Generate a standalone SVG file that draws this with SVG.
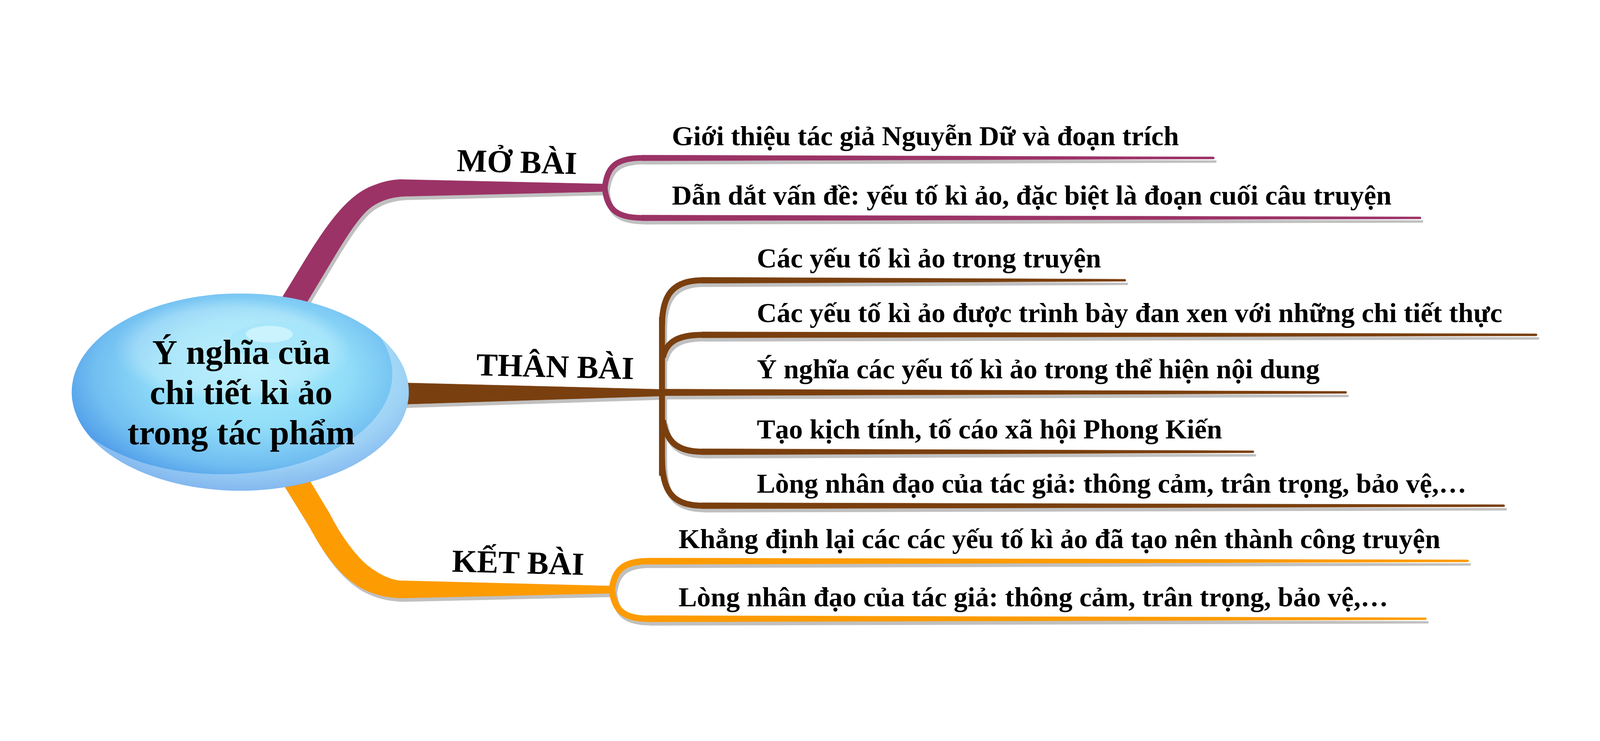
<svg xmlns="http://www.w3.org/2000/svg" xmlns:xlink="http://www.w3.org/1999/xlink" width="5334" height="1898" viewBox="0 0 5334 1898">
<style>
svg:root{width:100vw;height:100vh}
text{font-family:"Liberation Serif","Times New Roman",serif;font-weight:bold;fill:#000}
.center{font-size:116px}
.label{font-size:107px}
.item{font-size:92px}
.sh{fill:#c0c0c0;stroke:#c0c0c0}
</style>
<defs>
<radialGradient id="ball" cx="0.52" cy="0.42" r="0.62" fx="0.55" fy="0.38">
<stop offset="0" stop-color="#a6ebfc"/>
<stop offset="0.45" stop-color="#92def9"/>
<stop offset="0.75" stop-color="#70bdf1"/>
<stop offset="1" stop-color="#3f8be5"/>
</radialGradient>
<radialGradient id="gloss" cx="0.5" cy="0.5" r="0.5">
<stop offset="0" stop-color="#ffffff" stop-opacity="0.28"/>
<stop offset="0.8" stop-color="#ffffff" stop-opacity="0.22"/>
<stop offset="1" stop-color="#ffffff" stop-opacity="0"/>
</radialGradient>
<clipPath id="ballclip"><ellipse cx="801" cy="1021" rx="562" ry="329"/></clipPath>
<g id="b-mo">
<path d="M 880 805 L 1005 600 C 1090 460 1160 360 1250 330 C 1280 318 1310 312 1340 312 L 2018 327 L 2018 352 L 1350 368 C 1300 370 1260 385 1230 410 C 1190 445 1150 510 1096 600 L 970 810 Z"/>
<path fill="none" stroke-width="19" d="M 2016 340 C 2024 272 2050 240 2142 240"/>
<path fill="none" stroke-width="19" d="M 2016 340 C 2024 408 2050 440 2142 440"/>
<path d="M 2140 230.5 L 4045 236.5 A 3.5 3.5 0 0 1 4045 243.5 L 2140 249.5 Z"/>
<path d="M 2140 430.5 L 4734 436.5 A 3.5 3.5 0 0 1 4734 443.5 L 2140 449.5 Z"/>
</g>
<g id="b-than">
<path d="M 1300 989 L 2207 1012 L 2207 1034 L 1300 1063 Z"/>
<path fill="none" stroke-width="20" d="M 2207 770 L 2207 1300"/>
<path fill="none" stroke-width="20" d="M 2207 800 C 2207 700 2240 648 2342 648"/>
<path fill="none" stroke-width="20" d="M 2210 905 C 2222 852 2262 830 2342 830"/>
<path fill="none" stroke-width="20" d="M 2210 1115 C 2222 1190 2262 1220 2342 1220"/>
<path fill="none" stroke-width="20" d="M 2207 1240 C 2207 1350 2240 1400 2342 1400"/>
<path d="M 2340 638 L 3750 644.5 A 3.5 3.5 0 0 1 3750 651.5 L 2340 658 Z"/>
<path d="M 2340 820 L 5121 826.5 A 3.5 3.5 0 0 1 5121 833.5 L 2340 840 Z"/>
<path d="M 2200 1011 L 4486 1018.5 A 3.5 3.5 0 0 1 4486 1025.5 L 2200 1033 Z"/>
<path d="M 2340 1210 L 4177 1216.5 A 3.5 3.5 0 0 1 4177 1223.5 L 2340 1230 Z"/>
<path d="M 2340 1390 L 5013 1396.5 A 3.5 3.5 0 0 1 5013 1403.5 L 2340 1410 Z"/>
</g>
<g id="b-ket">
<path d="M 866 1200 L 950 1337 L 1030 1467 C 1080 1560 1130 1630 1200 1672 C 1250 1700 1300 1708 1344 1708 L 2042 1692 L 2042 1668 L 1332 1650 C 1290 1645 1250 1620 1220 1595 C 1180 1560 1130 1490 1099 1427 L 1036 1322 L 963 1200 Z"/>
<path fill="none" stroke-width="21" d="M 2040 1680 C 2048 1612 2080 1585 2162 1585"/>
<path fill="none" stroke-width="21" d="M 2040 1680 C 2048 1750 2080 1777 2162 1777"/>
<path d="M 2160 1574.5 L 4893 1580.5 A 3.5 3.5 0 0 1 4893 1587.5 L 2160 1595.5 Z"/>
<path d="M 2160 1766.5 L 4752 1773.5 A 3.5 3.5 0 0 1 4752 1780.5 L 2160 1787.5 Z"/>
</g>
</defs>
<rect width="5334" height="1898" fill="#ffffff"/>
<g id="connectors">
<use xlink:href="#b-mo" class="sh" transform="translate(7,12)"/>
<use xlink:href="#b-than" class="sh" transform="translate(7,12)"/>
<use xlink:href="#b-ket" class="sh" transform="translate(7,12)"/>
<use xlink:href="#b-mo" fill="#9b3366" stroke="#9b3366"/>
<use xlink:href="#b-than" fill="#7a3f0e" stroke="#7a3f0e"/>
<use xlink:href="#b-ket" fill="#fd9b02" stroke="#fd9b02"/>
</g>
<g id="center">
<ellipse cx="801" cy="1021" rx="562" ry="329" fill="url(#ball)"/>
<path clip-path="url(#ballclip)" fill="#ffffff" opacity="0.32" fill-rule="evenodd" d="M 239 1021 A 562 329 0 1 0 1363 1021 A 562 329 0 1 0 239 1021 Z M 174 961 A 567 334 0 1 0 1308 961 A 567 334 0 1 0 174 961 Z"/>
<ellipse cx="775" cy="880" rx="395" ry="175" fill="url(#gloss)"/>
<ellipse cx="930" cy="850" rx="165" ry="62" fill="#a4e6fb" opacity="0.7"/>
<ellipse cx="898" cy="828" rx="78" ry="28" fill="#cbf3fd"/>
<text class="center" x="804" y="927" text-anchor="middle">Ý nghĩa của</text>
<text class="center" x="804" y="1061" text-anchor="middle">chi tiết kì ảo</text>
<text class="center" x="804" y="1195" text-anchor="middle">trong tác phẩm</text>
</g>
<g id="mo-bai">
<text class="label" x="1522" y="284" transform="rotate(1.4 1522 284)">MỞ BÀI</text>
</g>
<g id="mo-bai-1"><text class="item" x="2240" y="197">Giới thiệu tác giả Nguyễn Dữ và đoạn trích</text></g>
<g id="mo-bai-2"><text class="item" x="2240" y="396">Dẫn dắt vấn đề: yếu tố kì ảo, đặc biệt là đoạn cuối câu truyện</text></g>
<g id="than-bai">
<text class="label" x="1587" y="965" transform="rotate(1.4 1587 965)">THÂN BÀI</text>
</g>
<g id="than-bai-1"><text class="item" x="2523" y="605">Các yếu tố kì ảo trong truyện</text></g>
<g id="than-bai-2"><text class="item" x="2523" y="788">Các yếu tố kì ảo được trình bày đan xen với những chi tiết thực</text></g>
<g id="than-bai-3"><text class="item" x="2523" y="975">Ý nghĩa các yếu tố kì ảo trong thể hiện nội dung</text></g>
<g id="than-bai-4"><text class="item" x="2523" y="1175">Tạo kịch tính, tố cáo xã hội Phong Kiến</text></g>
<g id="than-bai-5"><text class="item" x="2523" y="1356">Lòng nhân đạo của tác giả: thông cảm, trân trọng, bảo vệ,…</text></g>
<g id="ket-bai">
<text class="label" x="1506" y="1620" transform="rotate(1.4 1506 1620)">KẾT BÀI</text>
</g>
<g id="ket-bai-1"><text class="item" x="2262" y="1542">Khẳng định lại các các yếu tố kì ảo đã tạo nên thành công truyện</text></g>
<g id="ket-bai-2"><text class="item" x="2262" y="1736">Lòng nhân đạo của tác giả: thông cảm, trân trọng, bảo vệ,…</text></g>
</svg>
